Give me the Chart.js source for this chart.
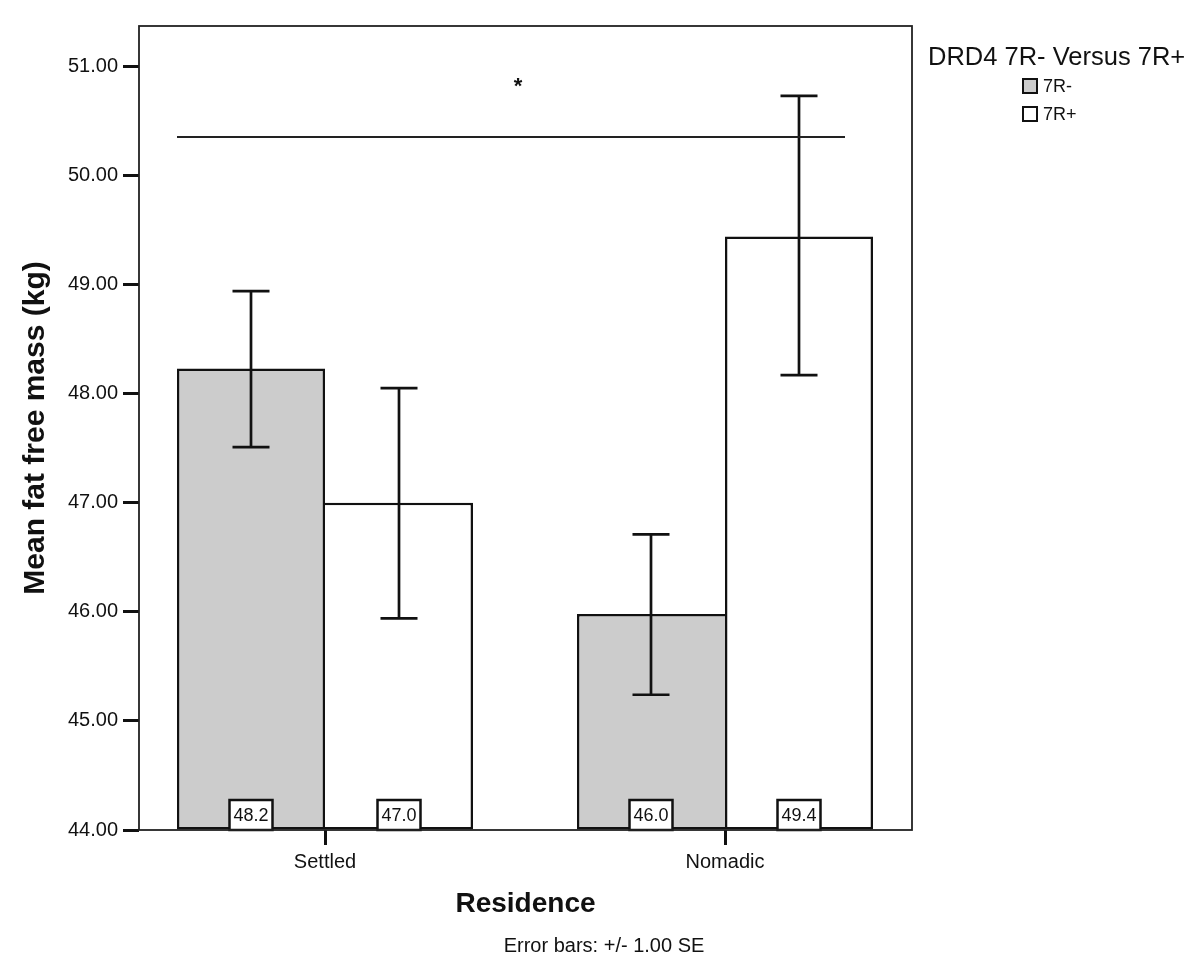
<!DOCTYPE html>
<html>
<head>
<meta charset="utf-8">
<title>Mean fat free mass by residence</title>
<script src="https://cdn.jsdelivr.net/npm/chart.js@4.4.1/dist/chart.umd.min.js"></script>
<style>
    html, body { margin: 0; padding: 0; background: #ffffff; }
    #wrap { width: 1200px; height: 978px; }
</style>
</head>
<body>
<div id="wrap"><canvas id="fatFreeChart" width="1200" height="978"></canvas></div>
<script>
// Chart data
const categories = ['Settled', 'Nomadic'];
const seriesLabels = ['7R-', '7R+'];
const meansNeg = [48.23, 45.98];
const meansPos = [47.00, 49.44];
const upperNeg = [48.94, 46.71];
const lowerNeg = [47.51, 45.24];
const upperPos = [48.05, 50.73];
const lowerPos = [45.94, 48.17];
const yTicks = [44, 45, 46, 47, 48, 49, 50, 51];
const yMin = 44;
const yMax = 51.37;

// significance bracket, in data units
const sigLine = { from: -0.37, to: 1.3, y: 50.353 };
const sigStar = { x: 0.4825, y: 50.85 };

const FONT = '"Liberation Sans", Arial, Helvetica, sans-serif';
const INK = '#111111';

document.addEventListener('DOMContentLoaded', function() {
    initFatFreeChart();
});

// Shared edge between the two bars of a group: only the taller bar draws it
function barBorder(context) {
    const i = context.dataIndex;
    const w = 2.5;
    if (context.datasetIndex === 0) {
        return { top: w, left: w, bottom: w, right: meansNeg[i] >= meansPos[i] ? w : 0 };
    }
    return { top: w, right: w, bottom: w, left: meansPos[i] > meansNeg[i] ? w : 0 };
}

// Error bars, value boxes, significance bracket, frame, legend and footnote
const extrasPlugin = {
    id: 'extras',
    afterDatasetsDraw(chart) {
        const ctx = chart.ctx;
        const area = chart.chartArea;
        const x = chart.scales.x;
        const y = chart.scales.y;

        ctx.save();
        chart.data.datasets.forEach(function(ds, di) {
            const meta = chart.getDatasetMeta(di);
            meta.data.forEach(function(bar, i) {
                const top = y.getPixelForValue(ds.errUpper[i]);
                const bottom = y.getPixelForValue(ds.errLower[i]);
                ctx.strokeStyle = INK;
                ctx.lineWidth = 2.7;
                ctx.beginPath();
                ctx.moveTo(bar.x, top);
                ctx.lineTo(bar.x, bottom);
                ctx.moveTo(bar.x - 18.5, top);
                ctx.lineTo(bar.x + 18.5, top);
                ctx.moveTo(bar.x - 18.5, bottom);
                ctx.lineTo(bar.x + 18.5, bottom);
                ctx.stroke();

                // value box at the base of the bar
                const w = 43, h = 30;
                ctx.fillStyle = '#ffffff';
                ctx.fillRect(bar.x - w / 2, area.bottom - h, w, h);
                ctx.lineWidth = 2.5;
                ctx.strokeRect(bar.x - w / 2, area.bottom - h, w, h);
                ctx.fillStyle = INK;
                ctx.font = '18px ' + FONT;
                ctx.textAlign = 'center';
                ctx.textBaseline = 'middle';
                ctx.fillText(ds.data[i].y.toFixed(1), bar.x, area.bottom - h / 2 + 1);
            });
        });

        // significance bracket
        ctx.strokeStyle = '#222222';
        ctx.lineWidth = 2;
        ctx.beginPath();
        ctx.moveTo(x.getPixelForValue(sigLine.from), y.getPixelForValue(sigLine.y));
        ctx.lineTo(x.getPixelForValue(sigLine.to), y.getPixelForValue(sigLine.y));
        ctx.stroke();
        ctx.fillStyle = INK;
        ctx.font = 'bold 22px ' + FONT;
        ctx.textAlign = 'center';
        ctx.textBaseline = 'middle';
        ctx.fillText('*', x.getPixelForValue(sigStar.x), y.getPixelForValue(sigStar.y) + 4);

        // plot frame
        ctx.strokeStyle = '#222222';
        ctx.lineWidth = 1.8;
        ctx.strokeRect(area.left, area.top, area.right - area.left, area.bottom - area.top);
        ctx.restore();
    },
    afterDraw(chart) {
        const ctx = chart.ctx;
        ctx.save();
        ctx.fillStyle = INK;

        // legend
        ctx.font = '25.5px ' + FONT;
        ctx.textAlign = 'left';
        ctx.textBaseline = 'alphabetic';
        ctx.fillText('DRD4 7R- Versus 7R+', 928, 65);
        chart.data.datasets.forEach(function(ds, i) {
            const cy = 86 + i * 28;
            ctx.fillStyle = ds.backgroundColor;
            ctx.fillRect(1023, cy - 7, 14, 14);
            ctx.strokeStyle = INK;
            ctx.lineWidth = 2;
            ctx.strokeRect(1023, cy - 7, 14, 14);
            ctx.fillStyle = INK;
            ctx.font = '18px ' + FONT;
            ctx.textBaseline = 'middle';
            ctx.fillText(ds.label, 1043, cy + 1);
        });

        // footnote
        ctx.font = '20px ' + FONT;
        ctx.textAlign = 'center';
        ctx.textBaseline = 'alphabetic';
        ctx.fillText('Error bars: +/- 1.00 SE', 604, 952);
        ctx.restore();
    }
};

function initFatFreeChart() {
    const ctx = document.getElementById('fatFreeChart');
    if (!ctx) return;

    new Chart(ctx, {
        type: 'bar',
        data: {
            datasets: [{
                label: seriesLabels[0],
                data: categories.map((c, i) => ({ x: i, y: meansNeg[i] })),
                errUpper: upperNeg,
                errLower: lowerNeg,
                backgroundColor: '#cccccc',
                borderColor: INK,
                borderWidth: barBorder,
                borderSkipped: false,
                base: yMin
            }, {
                label: seriesLabels[1],
                data: categories.map((c, i) => ({ x: i, y: meansPos[i] })),
                errUpper: upperPos,
                errLower: lowerPos,
                backgroundColor: '#ffffff',
                borderColor: INK,
                borderWidth: barBorder,
                borderSkipped: false,
                base: yMin
            }]
        },
        options: {
            responsive: false,
            animation: false,
            events: [],
            categoryPercentage: 0.74,
            barPercentage: 1.0,
            layout: {
                padding: { left: 0, right: 288, top: 26, bottom: 0 }
            },
            scales: {
                x: {
                    type: 'linear',
                    min: -0.465,
                    max: 1.4675,
                    offset: false,
                    afterBuildTicks: function(scale) {
                        scale.ticks = categories.map((c, i) => ({ value: i }));
                    },
                    afterFit: function(scale) {
                        scale.height = 148;
                    },
                    grid: {
                        offset: false,
                        drawOnChartArea: false,
                        drawTicks: true,
                        tickLength: 15,
                        tickWidth: 3,
                        tickColor: INK
                    },
                    border: { display: false },
                    ticks: {
                        padding: 5,
                        color: INK,
                        font: { family: FONT, size: 20 },
                        maxRotation: 0,
                        callback: function(value) {
                            return categories[value];
                        }
                    },
                    title: {
                        display: true,
                        text: 'Residence',
                        color: INK,
                        font: { family: FONT, size: 28, weight: 'bold' },
                        padding: { top: 0, bottom: 57 }
                    }
                },
                y: {
                    min: yMin,
                    max: yMax,
                    beginAtZero: false,
                    afterBuildTicks: function(scale) {
                        scale.ticks = yTicks.map(v => ({ value: v }));
                    },
                    afterFit: function(scale) {
                        scale.width = 139;
                    },
                    grid: {
                        drawOnChartArea: false,
                        drawTicks: true,
                        tickLength: 16,
                        tickWidth: 3,
                        tickColor: INK
                    },
                    border: { display: false },
                    ticks: {
                        padding: 5,
                        color: INK,
                        font: { family: FONT, size: 20 },
                        callback: function(value) {
                            return value.toFixed(2);
                        }
                    },
                    title: {
                        display: true,
                        text: 'Mean fat free mass (kg)',
                        color: INK,
                        font: { family: FONT, size: 30, weight: 'bold' },
                        padding: { top: 18, bottom: 0 }
                    }
                }
            },
            plugins: {
                legend: { display: false },
                tooltip: { enabled: false }
            }
        },
        plugins: [extrasPlugin]
    });
}
</script>
</body>
</html>
